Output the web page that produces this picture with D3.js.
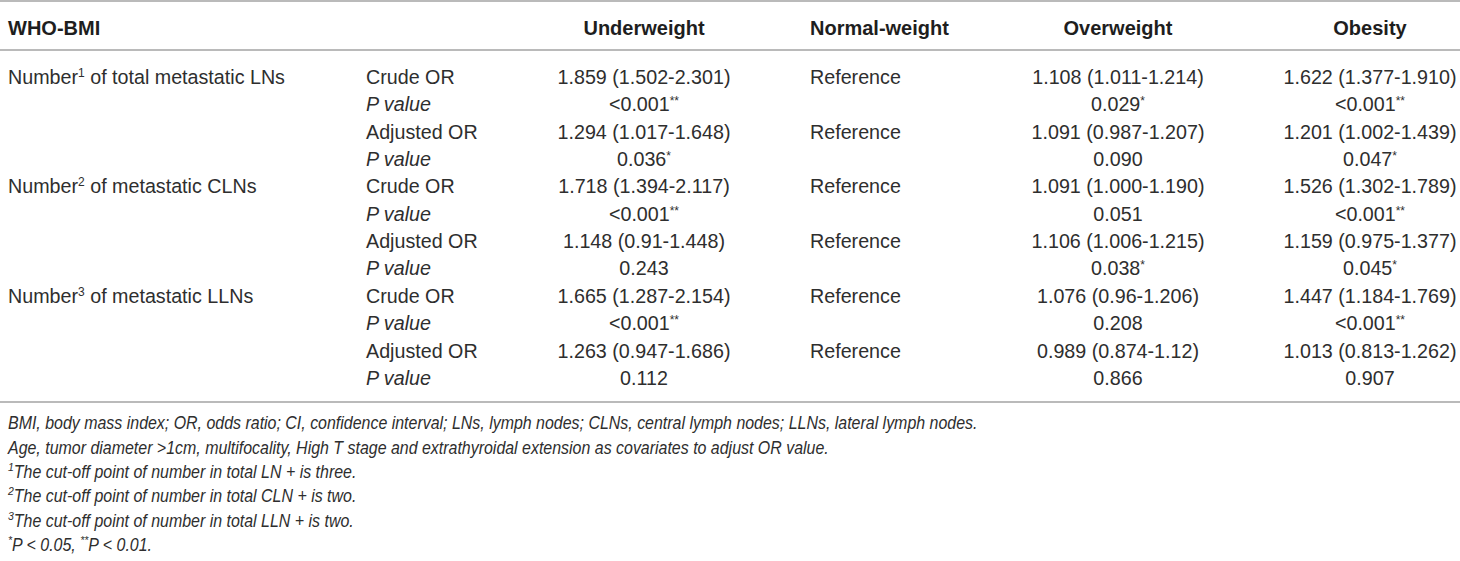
<!DOCTYPE html>
<meta charset="utf-8" />
<style>
  html,
  body {
    margin: 0;
    padding: 0;
    background: #fff;
    font-family: 'Liberation Sans', Arial, sans-serif;
  }
</style>
<script src="https://d3js.org/d3.v7.min.js"></script>

<div id="my_table"></div>

<script>
  // table content
  const headers = ['WHO-BMI', '', 'Underweight', 'Normal-weight', 'Overweight', 'Obesity'];
  const groupLabels = [
    'Number^1 of total metastatic LNs',
    'Number^2 of metastatic CLNs',
    'Number^3 of metastatic LLNs',
  ];
  const measures = ['Crude OR', 'P value', 'Adjusted OR', 'P value'];
  const underweight = [
    '1.859 (1.502-2.301)', '<0.001**', '1.294 (1.017-1.648)', '0.036*',
    '1.718 (1.394-2.117)', '<0.001**', '1.148 (0.91-1.448)', '0.243',
    '1.665 (1.287-2.154)', '<0.001**', '1.263 (0.947-1.686)', '0.112',
  ];
  const normalWeight = [
    'Reference', '', 'Reference', '',
    'Reference', '', 'Reference', '',
    'Reference', '', 'Reference', '',
  ];
  const overweight = [
    '1.108 (1.011-1.214)', '0.029*', '1.091 (0.987-1.207)', '0.090',
    '1.091 (1.000-1.190)', '0.051', '1.106 (1.006-1.215)', '0.038*',
    '1.076 (0.96-1.206)', '0.208', '0.989 (0.874-1.12)', '0.866',
  ];
  const obesity = [
    '1.622 (1.377-1.910)', '<0.001**', '1.201 (1.002-1.439)', '0.047*',
    '1.526 (1.302-1.789)', '<0.001**', '1.159 (0.975-1.377)', '0.045*',
    '1.447 (1.184-1.769)', '<0.001**', '1.013 (0.813-1.262)', '0.907',
  ];
  const footnotes = [
    'BMI, body mass index; OR, odds ratio; CI, confidence interval; LNs, lymph nodes; CLNs, central lymph nodes; LLNs, lateral lymph nodes.',
    'Age, tumor diameter >1cm, multifocality, High T stage and extrathyroidal extension as covariates to adjust OR value.',
    '^1The cut-off point of number in total LN + is three.',
    '^2The cut-off point of number in total CLN + is two.',
    '^3The cut-off point of number in total LLN + is two.',
    '*P < 0.05, **P < 0.01.',
  ];

  const width = 1460;
  const height = 561;
  const textColor = '#2e2e2e';
  const ruleColor = '#a3a3a3';
  const bodySize = 19.7;

  const svg = d3
    .select('#my_table')
    .append('svg')
    .attr('width', width)
    .attr('height', height);

  // row centres
  const nRows = underweight.length;
  const y = d3.scaleLinear().domain([0, nRows - 1]).range([77, 378]);
  const yNote = d3.scaleLinear().domain([0, footnotes.length - 1]).range([423, 545]);

  // write a string with ^N and * as raised small glyphs
  function richText(sel, str, supSize, supShift) {
    const parts = str.split(/(\^\d|\*+)/).filter((p) => p !== '');
    let raised = false;
    parts.forEach(function (p) {
      const isSup = p[0] === '^' || p[0] === '*';
      const t = sel.append('tspan').text(p[0] === '^' ? p.slice(1) : p);
      if (isSup) {
        t.attr('font-size', supSize).attr('dy', raised ? 0 : -supShift);
        raised = true;
      } else {
        if (raised) t.attr('dy', supShift);
        raised = false;
      }
    });
  }

  // rules
  [1, 50, 402].forEach(function (ry) {
    svg
      .append('line')
      .attr('x1', 0)
      .attr('x2', width)
      .attr('y1', ry)
      .attr('y2', ry)
      .attr('stroke', ruleColor)
      .attr('stroke-width', 1.6);
  });

  // columns: x position and anchor
  const cols = [
    { x: 8, anchor: 'start' },
    { x: 366, anchor: 'start' },
    { x: 644, anchor: 'middle' },
    { x: 810, anchor: 'start' },
    { x: 1118, anchor: 'middle' },
    { x: 1370, anchor: 'middle' },
  ];

  // baseline = centre + about 0.35em (kept off dy so tspans can shift freely)
  const base = (c, size) => c + size * 0.35;

  // header
  svg
    .selectAll('text.header')
    .data(headers)
    .enter()
    .append('text')
    .attr('class', 'header')
    .attr('x', (d, i) => cols[i].x)
    .attr('y', base(28, 20))
    .attr('text-anchor', (d, i) => cols[i].anchor)
    .attr('font-weight', 'bold')
    .attr('font-size', '20px')
    .attr('fill', '#1e1e1e')
    .text((d) => d);

  // group labels (one per 4 rows)
  svg
    .selectAll('text.group')
    .data(groupLabels)
    .enter()
    .append('text')
    .attr('class', 'group')
    .attr('x', cols[0].x)
    .attr('y', (d, i) => base(y(i * measures.length), bodySize))
    .attr('font-size', bodySize + 'px')
    .attr('fill', textColor)
    .each(function (d) {
      richText(d3.select(this), d, '12px', 7);
    });

  // measure labels
  const measureRows = d3.range(nRows).map((i) => measures[i % measures.length]);
  svg
    .selectAll('text.measure')
    .data(measureRows)
    .enter()
    .append('text')
    .attr('class', 'measure')
    .attr('x', cols[1].x)
    .attr('y', (d, i) => base(y(i), bodySize))
    .attr('font-size', bodySize + 'px')
    .attr('font-style', (d) => (d === 'P value' ? 'italic' : 'normal'))
    .attr('fill', textColor)
    .text((d) => d);

  // value columns
  [underweight, normalWeight, overweight, obesity].forEach(function (series, k) {
    const col = cols[k + 2];
    svg
      .append('g')
      .selectAll('text')
      .data(series)
      .enter()
      .append('text')
      .attr('x', col.x)
      .attr('y', (d, i) => base(y(i), bodySize))
      .attr('text-anchor', col.anchor)
      .attr('font-size', bodySize + 'px')
      .attr('fill', textColor)
      .each(function (d) {
        richText(d3.select(this), d, '12px', 6);
      });
  });

  // footnotes: italic, condensed horizontally to the reference width
  const noteSize = 17.5;
  const notes = svg.append('g');
  notes
    .selectAll('text')
    .data(footnotes)
    .enter()
    .append('text')
    .attr('x', 0)
    .attr('y', (d, i) => base(yNote(i), noteSize))
    .attr('font-size', noteSize + 'px')
    .attr('font-style', 'italic')
    .attr('fill', textColor)
    .each(function (d) {
      richText(d3.select(this), d, '11.5px', 7);
    });
  const firstLen = notes.select('text').node().getComputedTextLength();
  const sx = 970 / firstLen;
  notes.attr('transform', 'translate(8,0) scale(' + sx + ',1)');
</script>
